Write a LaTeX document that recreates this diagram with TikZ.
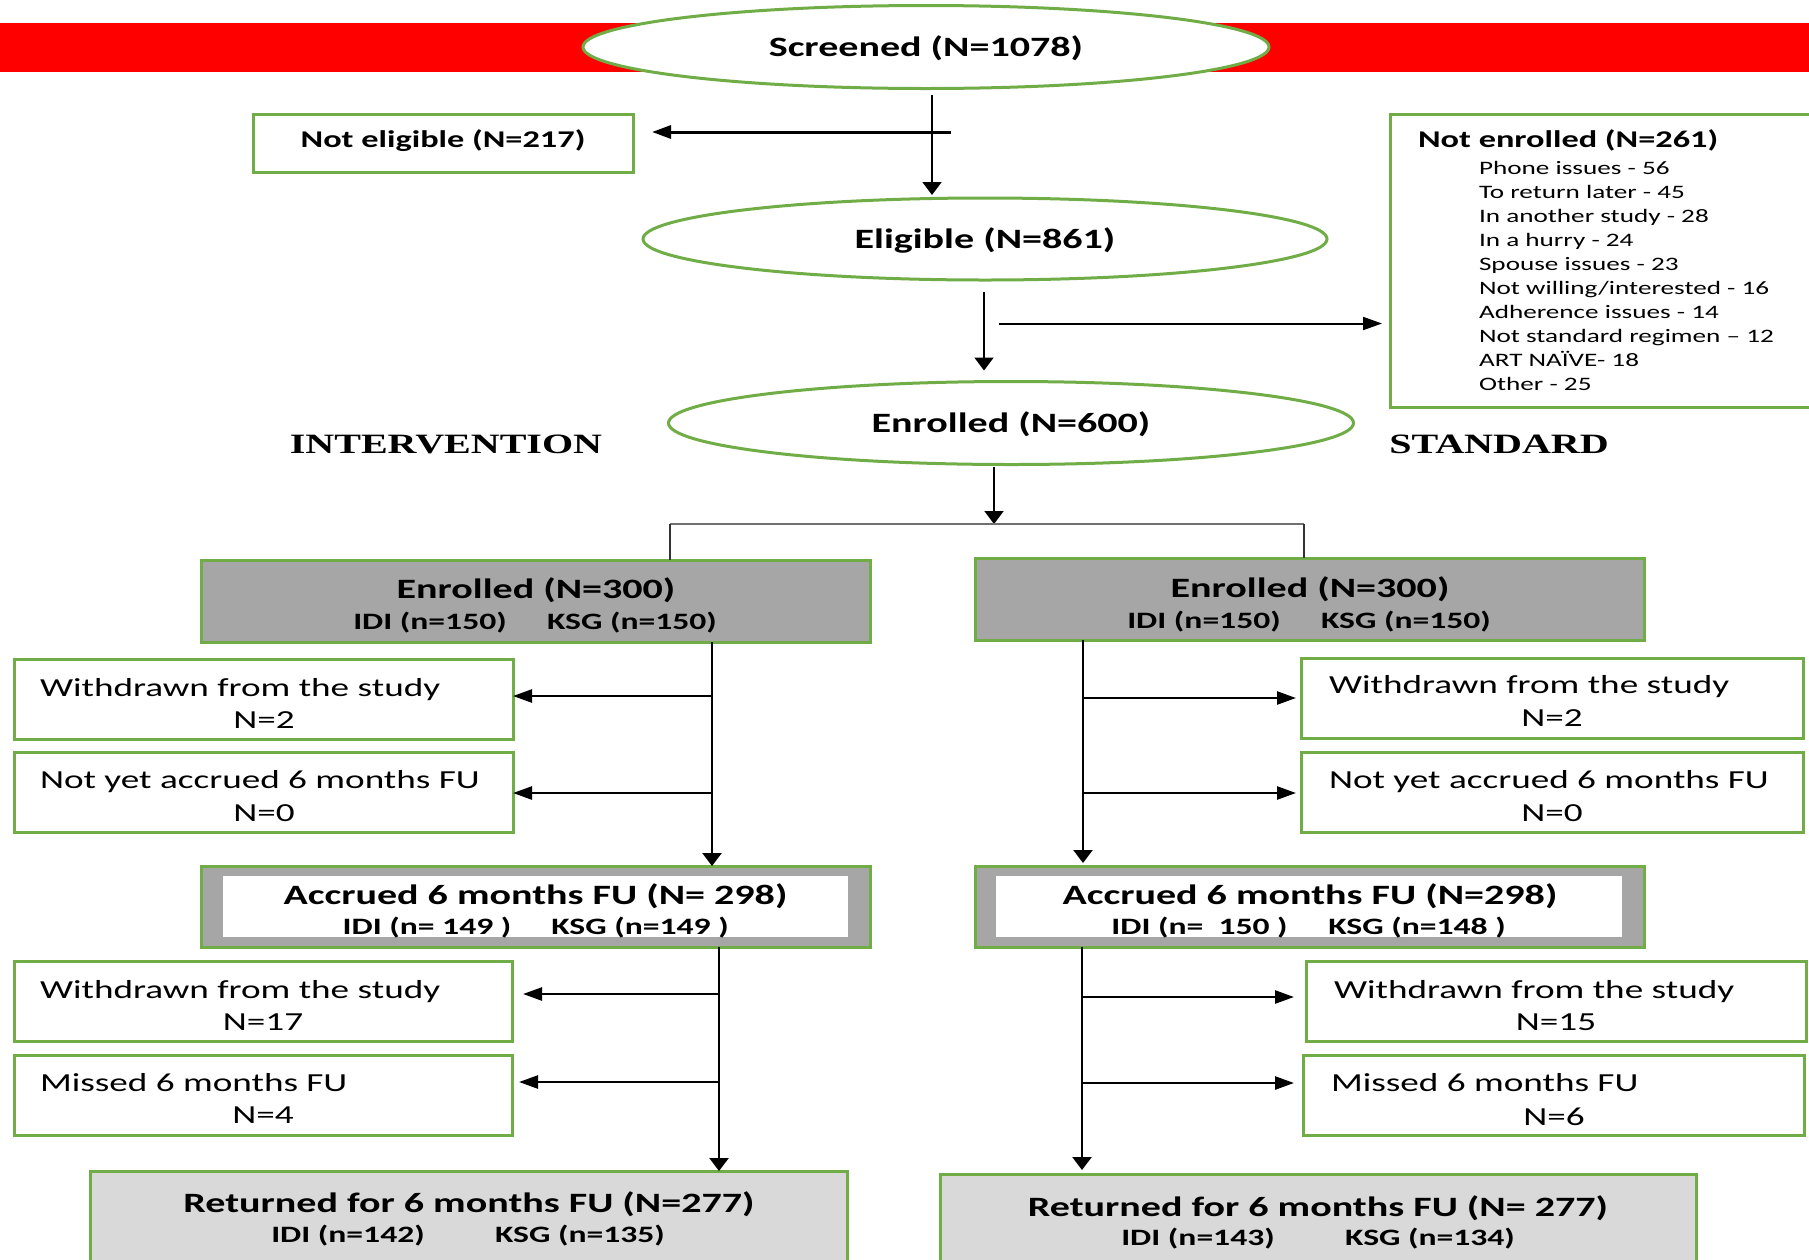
\documentclass[tikz,border=0pt]{standalone}
\usepackage{fontspec}
\setmainfont{Carlito}[FakeStretch=1.43]
\newfontfamily\tnr{Liberation Serif}[FakeStretch=1.43]
\usetikzlibrary{shapes.geometric,arrows.meta,calc}
\definecolor{grn}{HTML}{70AD47}
\definecolor{redband}{HTML}{FF0000}
\definecolor{dgray}{HTML}{A6A6A6}
\definecolor{lgray}{HTML}{D9D9D9}
\definecolor{gline}{HTML}{707070}
\begin{document}
\begin{tikzpicture}[x=1pt,y=-1pt,
  every node/.style={inner sep=0pt,outer sep=0pt},
  ell/.style={ellipse,draw=grn,line width=3pt,fill=white,minimum width=686pt,minimum height=83pt},
  gbox/.style={draw=grn,line width=3pt,fill=white},
  b28/.style={font=\fontsize{28}{32}\selectfont\bfseries,text height=18pt,text depth=0pt},
  b24/.style={font=\fontsize{24}{28}\selectfont\bfseries,text height=15.5pt,text depth=0pt},
  b23/.style={font=\fontsize{23.5}{27}\selectfont\bfseries,text height=15.1pt,text depth=0pt},
  r26/.style={font=\fontsize{26}{30}\selectfont,text height=16.7pt,text depth=0pt},
  r19/.style={font=\fontsize{19}{23}\selectfont,text height=12.2pt,text depth=0pt},
  serifcap/.style={font=\fontsize{28}{32}\selectfont\tnr\bfseries,text height=18.5pt,text depth=0pt},
  conn/.style={line width=2.5pt,black},
  harr/.style={conn,-{Triangle[length=19pt,width=13pt]}},
  varr/.style={conn,-{Triangle[length=13pt,width=19pt]}},
  grayline/.style={line width=2.5pt,gline},
  drop/.style={line width=1.6pt,black!80}
]
\useasboundingbox (0,0) rectangle (1809,1259);
\fill[white] (0,0) rectangle (1809,1259);
% red band
\fill[redband] (0,23) rectangle (1809,72);

% top ellipses and boxes
\node[ell] (scr) at (926,47) {};
\node[b28] (scrt) at (926,47) {Screened (N=1078)};
\node[gbox,minimum width=380pt,minimum height=58pt] (ne) at (443,143) {};
\node[b24] (net) at (443,140) {Not eligible (N=217)};
\node[ell,minimum width=684pt,minimum height=82pt] (elg) at (985,239) {};
\node[b28] (elgt) at (985,239) {Eligible (N=861)};
\node[gbox,minimum width=440pt,minimum height=293pt] (nen) at (1610,260.5) {};
\node[b24,anchor=west] (nent) at (1418,140) {Not enrolled (N=261)};
\foreach \t [count=\i] in {Phone issues - 56,To return later - 45,In another study - 28,In a hurry - 24,Spouse issues - 23,Not willing/interested - 16,Adherence issues - 14,Not standard regimen -- 12,ART NAÏVE- 18,Other - 25}{
  \node[r19,anchor=west] (nen\i) at (1479,{168+24*(\i-1)}) {\t};
}
\node[ell,minimum width=685pt] (e600) at (1011,423) {};
\node[b28] (e600t) at (1011,423) {Enrolled (N=600)};
\node[serifcap] (intv) at (446,444) {INTERVENTION};
\node[serifcap] (std) at (1499,444) {STANDARD};

% second level boxes
\node[gbox,fill=dgray,minimum width=669pt,minimum height=82pt] (l300) at (535.5,601) {};
\node[b28] (l300t) at (536,589) {Enrolled (N=300)};
\node[b23] (l300a) at (430,622) {IDI (n=150)};
\node[b23] (l300b) at (632,622) {KSG (n=150)};
\node[gbox,fill=dgray,minimum width=669pt,minimum height=82pt] (r300) at (1309.5,599) {};
\node[b28] (r300t) at (1310,588) {Enrolled (N=300)};
\node[b23] (r300a) at (1204,621) {IDI (n=150)};
\node[b23] (r300b) at (1406,621) {KSG (n=150)};

% side boxes (upper)
\node[gbox,minimum width=499pt,minimum height=80pt] (lw1) at (263.5,699) {};
\node[r26,anchor=west] (lw1a) at (40,688) {Withdrawn from the study};
\node[r26] (lw1b) at (264,720) {N=2};
\node[gbox,minimum width=499pt,minimum height=80pt] (ln) at (263.5,792) {};
\node[r26,anchor=west] (lna) at (40,780) {Not yet accrued 6 months FU};
\node[r26] (lnb) at (264,813) {N=0};
\node[gbox,minimum width=502pt,minimum height=80pt] (rw1) at (1552,698) {};
\node[r26,anchor=west] (rw1a) at (1329,685) {Withdrawn from the study};
\node[r26] (rw1b) at (1552,718) {N=2};
\node[gbox,minimum width=502pt,minimum height=80pt] (rn) at (1552,792) {};
\node[r26,anchor=west] (rna) at (1329,780) {Not yet accrued 6 months FU};
\node[r26] (rnb) at (1552,813) {N=0};

% accrued boxes
\node[gbox,fill=dgray,minimum width=669pt,minimum height=81pt] (la) at (535.5,906.5) {};
\node[fill=white,minimum width=625pt,minimum height=61pt] (lai) at (535.5,906.5) {};
\node[b28] (lat) at (535.5,895) {Accrued 6 months FU (N= 298)};
\node[b23] (laa) at (427,927) {IDI (n= 149 )};
\node[b23] (lab) at (640,927) {KSG (n=149 )};
\node[gbox,fill=dgray,minimum width=669pt,minimum height=81pt] (ra) at (1309.5,906.5) {};
\node[fill=white,minimum width=626pt,minimum height=61pt] (rai) at (1309,906.5) {};
\node[b28] (rat) at (1310,895) {Accrued 6 months FU (N=298)};
\node[b23] (raa) at (1199.5,927) {IDI (n=~~150 )};
\node[b23] (rab) at (1417,927) {KSG (n=148 )};

% side boxes (lower)
\node[gbox,minimum width=498pt,minimum height=80pt] (lw2) at (263,1001) {};
\node[r26,anchor=west] (lw2a) at (40,990) {Withdrawn from the study};
\node[r26] (lw2b) at (263,1022) {N=17};
\node[gbox,minimum width=498pt,minimum height=80pt] (lm) at (263,1095) {};
\node[r26,anchor=west] (lma) at (40,1083) {Missed 6 months FU};
\node[r26] (lmb) at (263,1115) {N=4};
\node[gbox,minimum width=500pt,minimum height=80pt] (rw2) at (1556,1001) {};
\node[r26,anchor=west] (rw2a) at (1334,990) {Withdrawn from the study};
\node[r26] (rw2b) at (1556,1022) {N=15};
\node[gbox,minimum width=501pt,minimum height=80pt] (rm) at (1553.5,1095) {};
\node[r26,anchor=west] (rma) at (1331,1083) {Missed 6 months FU};
\node[r26] (rmb) at (1554,1117) {N=6};

% returned boxes
\node[gbox,fill=lgray,minimum width=757pt,minimum height=109pt] (lr) at (468.5,1225.5) {};
\node[b28] (lrt) at (469,1203) {Returned for 6 months FU (N=277)};
\node[b23] (lra) at (348,1235) {IDI (n=142)};
\node[b23] (lrb) at (580,1235) {KSG (n=135)};
\node[gbox,fill=lgray,minimum width=756pt,minimum height=106pt] (rr) at (1318,1227) {};
\node[b28] (rrt) at (1318,1207) {Returned for 6 months FU (N= 277)};
\node[b23] (rra) at (1198,1238) {IDI (n=143)};
\node[b23] (rrb) at (1430,1238) {KSG (n=134)};

% connectors top
\coordinate (c1) at (932,95);
\draw[varr,line width=2pt,shorten >=3pt] (c1) -- (c1 |- elg.north);
\coordinate (c2) at (951,132);
\draw[harr,line width=3pt,shorten >=19pt] (c2) -- (c2 -| ne.east);
\coordinate (c3) at (984,292);
\draw[varr,line width=2pt,shorten >=11pt] (c3) -- (c3 |- e600.north);
\coordinate (c4) at (999,323.5);
\draw[harr,line width=2pt,shorten >=8pt] (c4) -- (c4 -| nen.west);
\coordinate (c5) at (994,467);
\coordinate (split) at (994,524);
\draw[varr,line width=2pt] (c5) -- (split);
\coordinate (sl) at (670,524);
\coordinate (sr) at (1304,524);
\draw[grayline] (sl) -- (sr);
\draw[drop] (sl) -- (sl |- l300.north);
\draw[drop] (sr) -- (sr |- r300.north);

% left branch
\coordinate (lA) at (712,642);
\draw[varr] (lA) -- (lA |- la.north);
\coordinate (lB) at (712,696);
\draw[harr] (lB) -- (lB -| lw1.east);
\coordinate (lC) at (712,793);
\draw[harr] (lC) -- (lC -| ln.east);
\coordinate (lD) at (719,947);
\draw[varr] (lD) -- (lD |- lr.north);
\coordinate (lE) at (719,994);
\draw[harr,shorten >=11pt] (lE) -- (lE -| lw2.east);
\coordinate (lF) at (719,1082);
\draw[harr,shorten >=7pt] (lF) -- (lF -| lm.east);

% right branch
\coordinate (rA) at (1083,640);
\draw[varr,shorten >=3pt] (rA) -- (rA |- ra.north);
\coordinate (rB) at (1083,698);
\draw[harr,shorten >=5pt] (rB) -- (rB -| rw1.west);
\coordinate (rC) at (1083,793);
\draw[harr,shorten >=5pt] (rC) -- (rC -| rn.west);
\coordinate (rD) at (1082,947);
\draw[varr,shorten >=4pt] (rD) -- (rD |- rr.north);
\coordinate (rE) at (1082,997);
\draw[harr,shorten >=12pt] (rE) -- (rE -| rw2.west);
\coordinate (rF) at (1082,1083);
\draw[harr,shorten >=9pt] (rF) -- (rF -| rm.west);
\end{tikzpicture}
\end{document}
